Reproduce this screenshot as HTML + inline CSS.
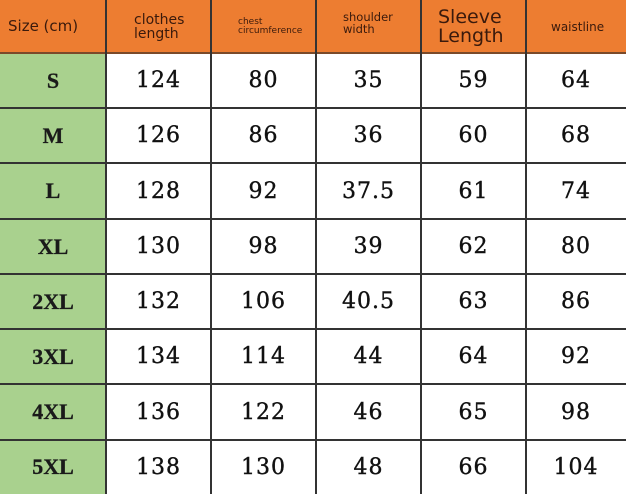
<!DOCTYPE html>
<html><head><meta charset="utf-8"><style>
body{margin:0;width:626px;height:494px;background:#fff;overflow:hidden;position:relative}
.c{position:absolute;display:flex;align-items:center;justify-content:center;box-sizing:border-box}
.h{background:#ED7D31;color:#3a1a0c;font-family:"DejaVu Sans","Liberation Sans",sans-serif;justify-content:flex-start;line-height:1}
.g{background:#A9D18E;font-family:"Liberation Serif",serif;font-weight:bold;font-size:22px;color:#1a1a1a;-webkit-text-stroke:0.3px #1a1a1a}
.n{font-family:"DejaVu Serif","Liberation Serif",serif;font-size:22px;color:#111;letter-spacing:1px;-webkit-text-stroke:0.4px #111}
.vl{position:absolute;top:0;height:494px;width:2px;background:#333}
.hl{position:absolute;left:0;width:626px;height:2px;background:#333}
</style></head><body>
<div class="c h" style="left:0;top:0;width:106px;height:53px;padding-left:8px;font-size:15px">Size (cm)</div>
<div class="c h" style="left:106px;top:0;width:105px;height:53px;padding-left:28px;font-size:14px">clothes<br>length</div>
<div class="c h" style="left:211px;top:0;width:105px;height:53px;padding-left:27px;font-size:9px">chest<br>circumference</div>
<div class="c h" style="left:316px;top:0;width:105px;height:53px;padding-left:27px;font-size:11.5px;padding-bottom:6px">shoulder<br>width</div>
<div class="c h" style="left:421px;top:0;width:105px;height:53px;padding-left:17px;font-size:19px">Sleeve<br>Length</div>
<div class="c h" style="left:526px;top:0;width:100px;height:53px;padding-left:25px;font-size:12px">waistline</div>
<div id="rows"></div>
<script>
var d=[["S",124,80,35,59,64],["M",126,86,36,60,68],["L",128,92,37.5,61,74],["XL",130,98,39,62,80],["2XL",132,106,40.5,63,86],["3XL",134,114,44,64,92],["4XL",136,122,46,65,98],["5XL",138,130,48,66,104]];
var ys=[53,108,163,219,274,329,384,440,494],xs=[0,106,211,316,421,526,626],h="";
d.forEach(function(r,i){r.forEach(function(v,j){h+='<div class="c '+(j?'n':'g')+'" style="left:'+xs[j]+'px;top:'+ys[i]+'px;width:'+(xs[j+1]-xs[j])+'px;height:'+(ys[i+1]-ys[i])+'px">'+v+'</div>';});
h+='<div class="hl" style="top:'+(ys[i]-1)+'px;background:'+(i==0?'#7a4a2a':'#333')+'"></div>';});
for(var j=1;j<6;j++)h+='<div class="vl" style="left:'+(xs[j]-1)+'px"></div>';
document.getElementById("rows").innerHTML=h;
</script>
</body></html>
